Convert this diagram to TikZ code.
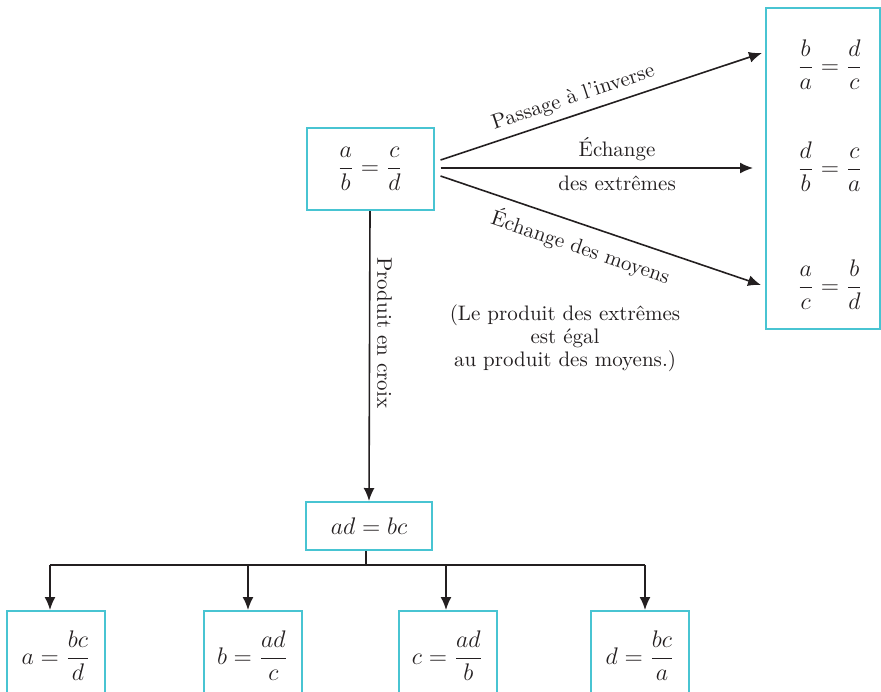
\documentclass[tikz,border=0pt]{standalone}
\usepackage{amsmath}
\usepackage{fontspec}
\usetikzlibrary{arrows.meta}
\definecolor{boxcyan}{RGB}{72,196,210}
\definecolor{ink}{RGB}{35,31,32}
\begin{document}
\begin{tikzpicture}[x=0.5pt,y=-0.5pt,
  mbox/.style={draw=boxcyan, line width=1pt, inner sep=0pt, text=ink, font=\fontsize{12}{14}\selectfont},
  conn/.style={draw=ink, line width=0.8pt, -{Latex[length=6.5pt,width=5.5pt]}},
  plain/.style={draw=ink, line width=0.8pt},
  lab/.style={font=\fontsize{10.5}{11.5}\selectfont, text=ink},
  mathlab/.style={font=\fontsize{12}{14}\selectfont, text=ink, inner sep=0pt}]
\useasboundingbox (0,0) rectangle (881,691);
\clip (0,0) rectangle (881,691);
% main box
\node[mbox, minimum width=63.5pt, minimum height=41pt] (top) at (370,169) {$\dfrac{a}{b}=\dfrac{c}{d}$};
% right box
\node[mbox, minimum width=57pt, minimum height=160.5pt] (right) at (823,168.5) {};
\node[mathlab] (r1) at (830,65) {$\dfrac{b}{a}=\dfrac{d}{c}$};
\node[mathlab] (r2) at (830,167) {$\dfrac{d}{b}=\dfrac{c}{a}$};
\node[mathlab] (r3) at (830,285) {$\dfrac{a}{c}=\dfrac{b}{d}$};
% product box
\node[mbox, minimum width=63pt, minimum height=24pt] (prod) at (369,526) {$ad=bc$};
% bottom boxes
\node[mbox, minimum width=49pt, minimum height=45pt, anchor=north] (b1) at (56,610) {$a=\dfrac{bc}{d}$};
\node[mbox, minimum width=49pt, minimum height=45pt, anchor=north] (b2) at (252.5,610) {$b=\dfrac{ad}{c}$};
\node[mbox, minimum width=49pt, minimum height=45pt, anchor=north] (b3) at (447.5,610) {$c=\dfrac{ad}{b}$};
\node[mbox, minimum width=49pt, minimum height=45pt, anchor=north] (b4) at (640,610) {$d=\dfrac{bc}{a}$};
% arrows to the right
\coordinate (s1) at ([xshift=3pt,yshift=4.5pt]top.east);
\coordinate (s2) at ([xshift=3pt,yshift=0.5pt]top.east);
\coordinate (s3) at ([xshift=3pt,yshift=-3.5pt]top.east);
\coordinate (e1) at (762,53);
\coordinate (e2) at (753,168);
\coordinate (e3) at (761,285);
\draw[conn] (s1) -- node[lab, sloped, above, pos=0.43] {Passage à l'inverse} (e1);
\draw[conn] (s2) -- node[lab, above, pos=0.565] {Échange} node[lab, below, pos=0.565] {des extrêmes} (e2);
\draw[conn] (s3) -- node[lab, sloped, below=1.5pt, pos=0.46] {Échange des moyens} (e3);
% note
\node[lab, align=center] (note) at (565,338) {(Le produit des extrêmes\\est égal\\au produit des moyens.)};
% vertical arrow
\draw[conn] (top.south) -- node[lab, rotate=-90, anchor=south, pos=0.42] {Produit en croix} (prod.north);
% distribution
\coordinate (hub) at (366,565);
\coordinate (h1) at (50,565);
\coordinate (h2) at (248,565);
\coordinate (h3) at (446,565);
\coordinate (h4) at (645,565);
\draw[plain] ([xshift=-1.5pt]prod.south) -- (hub);
\draw[plain] (h1) -- (h4);
\draw[conn] (h1) -- (h1 |- b1.north);
\draw[conn] (h2) -- (h2 |- b2.north);
\draw[conn] (h3) -- (h3 |- b3.north);
\draw[conn] (h4) -- (h4 |- b4.north);
\end{tikzpicture}
\end{document}
